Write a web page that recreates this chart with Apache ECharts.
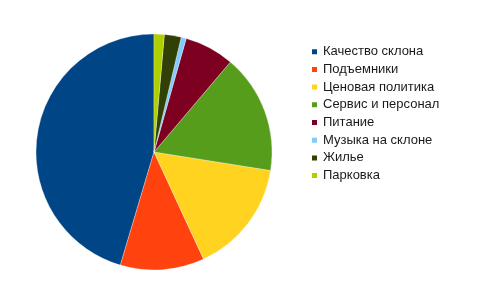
<!DOCTYPE html>
<html><head><meta charset="utf-8">
<script src="https://cdn.jsdelivr.net/npm/echarts@6/dist/echarts.min.js"></script>
<style>html,body{margin:0;padding:0;background:#fff;}#c{width:500px;height:299px;}</style>
</head><body><div id="c"></div>
<script>
var categories = ["Качество склона","Подъемники","Ценовая политика","Сервис и персонал","Питание","Музыка на склоне","Жилье","Парковка"];
var values = [45.4, 11.5, 15.6, 16.3, 6.8, 0.7, 2.3, 1.4];
var colors = ["#004586","#ff420e","#ffd320","#579d1c","#7e0021","#83caff","#314004","#aecf00"];
var chart = echarts.init(document.getElementById('c'), null, {renderer:'canvas'});
chart.setOption({
  animation:false,
  color: colors,
  legend: {
    orient:'vertical', left:310, top:44.7, padding:0,
    icon:'rect', itemWidth:7, itemHeight:7, itemGap:3.7,
    textStyle:{fontFamily:'Liberation Sans, Arial, sans-serif', fontSize:13, color:'#1a1a1a', lineHeight:14},
    data: categories
  },
  series: [{
    type:'pie', center:[154,152], radius:118, startAngle:90, clockwise:false,
    label:{show:false}, labelLine:{show:false},
    itemStyle:{borderColor:'#fff', borderWidth:0.3},
    emphasis:{disabled:true},
    data: categories.map(function(n,i){return {name:n, value:values[i]};})
  }]
});
</script></body></html>
